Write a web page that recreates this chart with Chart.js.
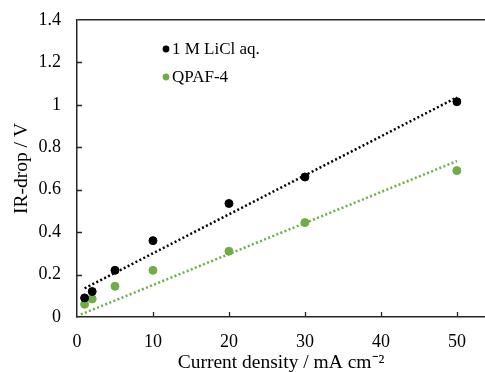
<!DOCTYPE html>
<html>
<head>
<meta charset="utf-8">
<script src="https://cdn.jsdelivr.net/npm/chart.js@4.4.0/dist/chart.umd.min.js"></script>
<style>
  html, body { margin: 0; padding: 0; background: #fff; overflow: hidden; }
  #wrap { width: 490px; height: 372px; }
</style>
</head>
<body>
<div id="wrap"><canvas id="myChart"></canvas></div>
<script>
const currentDensity = [1, 2, 5, 10, 20, 30, 50];
const liclDrop = [0.09, 0.12, 0.22, 0.36, 0.535, 0.66, 1.015];
const qpafDrop = [0.06, 0.085, 0.145, 0.22, 0.31, 0.445, 0.69];
// dotted trendline end points
const liclTrendX = [1, 50];
const liclTrendY = [0.135, 1.035];
const qpafTrendX = [0.5, 50];
const qpafTrendY = [0.012, 0.735];
const xTicks = [0, 10, 20, 30, 40, 50];
const yTicks = [0, 0.2, 0.4, 0.6, 0.8, 1, 1.2, 1.4];

const GREEN = '#70AD47';
const AXIS = '#262626';
const FONT = "'Liberation Serif', 'Times New Roman', serif";

const toPoints = (xs, ys) => xs.map((x, i) => ({ x: x, y: ys[i] }));

// small inward tick marks like the Excel original
const innerTicks = {
    id: 'innerTicks',
    afterDraw(chart) {
        const { ctx, chartArea, scales } = chart;
        ctx.save();
        ctx.strokeStyle = AXIS;
        ctx.lineWidth = 1.3;
        ctx.beginPath();
        scales.x.ticks.forEach(t => {
            if (t.value === 0) return;
            const px = Math.round(scales.x.getPixelForValue(t.value)) + 0.5;
            ctx.moveTo(px, chartArea.bottom);
            ctx.lineTo(px, chartArea.bottom - 5);
        });
        scales.y.ticks.forEach(t => {
            if (t.value === 0 || t.value === 1.4) return;
            const py = Math.round(scales.y.getPixelForValue(t.value)) + 0.5;
            ctx.moveTo(chartArea.left, py);
            ctx.lineTo(chartArea.left + 5, py);
        });
        ctx.stroke();
        ctx.restore();
    }
};

// legend sitting inside the plot area
const insideLegend = {
    id: 'insideLegend',
    afterDraw(chart) {
        const { ctx, chartArea } = chart;
        const items = chart.data.datasets.filter(d => !d.isTrend);
        ctx.save();
        ctx.font = '17px ' + FONT;
        ctx.textBaseline = 'middle';
        items.forEach((d, i) => {
            const x = chartArea.left + 89;
            const y = chartArea.top + 29 + i * 28;
            ctx.fillStyle = d.backgroundColor;
            ctx.beginPath();
            ctx.arc(x, y, 3.4, 0, Math.PI * 2);
            ctx.fill();
            ctx.fillStyle = '#000';
            ctx.fillText(d.label, x + 6, y + 1);
        });
        ctx.restore();
    }
};

function plotGraph() {
    const ctx = document.getElementById('myChart').getContext('2d');
    new Chart(ctx, {
        type: 'scatter',
        data: {
            datasets: [
                {
                    label: '1 M LiCl aq.',
                    data: toPoints(currentDensity, liclDrop),
                    backgroundColor: '#000',
                    borderColor: '#000',
                    pointRadius: 4,
                    order: 1
                },
                {
                    label: 'QPAF-4',
                    data: toPoints(currentDensity, qpafDrop),
                    backgroundColor: GREEN,
                    borderColor: GREEN,
                    pointRadius: 4,
                    order: 2
                },
                {
                    label: 'LiCl trend',
                    isTrend: true,
                    data: toPoints(liclTrendX, liclTrendY),
                    showLine: true,
                    borderColor: '#000',
                    borderWidth: 2.5,
                    borderDash: [2, 2.4],
                    pointRadius: 0,
                    order: 3
                },
                {
                    label: 'QPAF trend',
                    isTrend: true,
                    data: toPoints(qpafTrendX, qpafTrendY),
                    showLine: true,
                    borderColor: GREEN,
                    borderWidth: 2.5,
                    borderDash: [2, 2.4],
                    pointRadius: 0,
                    order: 4
                }
            ]
        },
        options: {
            responsive: true,
            maintainAspectRatio: false,
            animation: false,
            layout: { padding: { top: 20, right: 0, left: 0, bottom: 0 } },
            scales: {
                x: {
                    type: 'linear',
                    min: 0,
                    max: 53.7,
                    afterBuildTicks: s => { s.ticks = xTicks.map(v => ({ value: v })); },
                    afterFit: s => { s.height = 55; s.paddingLeft = 0; s.paddingRight = 0; },
                    grid: { display: false, tickLength: 0 },
                    border: { color: AXIS, width: 1.5 },
                    ticks: { color: '#000', padding: 14, font: { family: FONT, size: 18 } },
                    title: {
                        display: true,
                        text: 'Current density / mA cm⁻²',
                        color: '#000',
                        padding: { top: 0, bottom: -3 },
                        font: { family: FONT, size: 19.5 }
                    }
                },
                y: {
                    min: 0,
                    max: 1.4,
                    afterBuildTicks: s => { s.ticks = yTicks.map(v => ({ value: v })); },
                    afterFit: s => { s.width = 77; s.paddingTop = 0; s.paddingBottom = 0; },
                    grid: {
                        tickLength: 0,
                        drawTicks: false,
                        lineWidth: 1.5,
                        color: c => (c.tick && c.tick.value === 1.4) ? AXIS : 'rgba(0,0,0,0)'
                    },
                    border: { color: AXIS, width: 1.5 },
                    ticks: {
                        color: '#000',
                        padding: 16,
                        font: { family: FONT, size: 18 },
                        callback: v => String(+v.toFixed(1))
                    },
                    title: {
                        display: true,
                        text: 'IR-drop / V',
                        color: '#000',
                        padding: { top: 10, bottom: 0 },
                        font: { family: FONT, size: 19.5 }
                    }
                }
            },
            plugins: {
                legend: { display: false },
                tooltip: { enabled: false }
            }
        },
        plugins: [innerTicks, insideLegend]
    });
}

plotGraph();
</script>
</body>
</html>
